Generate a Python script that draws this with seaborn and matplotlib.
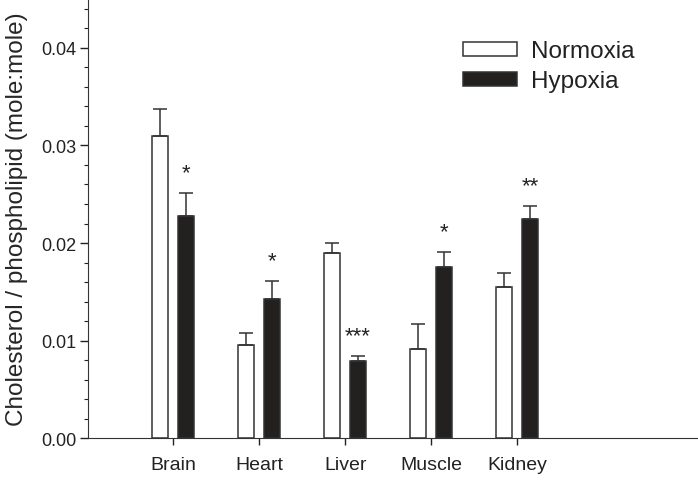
import matplotlib as mpl
import matplotlib.pyplot as plt
import seaborn as sns
import numpy as np
import pandas as pd

# values
tissues = ["Brain", "Heart", "Liver", "Muscle", "Kidney"]
normoxia = [0.0310, 0.0096, 0.0190, 0.0092, 0.0155]
hypoxia = [0.0228, 0.0143, 0.0079, 0.0175, 0.0225]
normoxia_se = [0.0027, 0.0012, 0.0010, 0.0025, 0.0014]
hypoxia_se = [0.0023, 0.0018, 0.0005, 0.0016, 0.0013]
stars = ["*", "*", "***", "*", "**"]
groups = ["Normoxia", "Hypoxia"]

df = pd.DataFrame({
    "tissue": tissues * 2,
    "group": [groups[0]] * len(tissues) + [groups[1]] * len(tissues),
    "ratio": normoxia + hypoxia,
})

sns.set_style("ticks")
plt.rcParams["font.family"] = ["Liberation Sans", "DejaVu Sans"]
plt.rcParams["font.size"] = 13
plt.rcParams["text.color"] = "#222222"
plt.rcParams["xtick.color"] = "#222222"
plt.rcParams["ytick.color"] = "#222222"
plt.rcParams["axes.edgecolor"] = "#333333"

fig = plt.figure(figsize=(6.98, 4.89), dpi=100)
ax = fig.add_axes([0.126, 0.1016, 0.874, 0.8984])

edge = "#333333"
sns.barplot(data=df, x="tissue", y="ratio", hue="group", ax=ax,
            palette={"Normoxia": "white", "Hypoxia": "#231f20"},
            order=tissues, hue_order=groups, errorbar=None,
            width=0.6, gap=0.38, edgecolor=edge, linewidth=1.1, legend=False)

# upper error bars only
for cont, se in zip(ax.containers, [normoxia_se, hypoxia_se]):
    xs = [b.get_x() + b.get_width() / 2 for b in cont]
    hs = [b.get_height() for b in cont]
    ax.errorbar(xs, hs, yerr=[np.zeros(len(se)), se], fmt="none",
                ecolor=edge, elinewidth=1.1, capsize=4.7, capthick=1.1)

# significance marks above hypoxia bars
for b, se, s in zip(ax.containers[1], hypoxia_se, stars):
    ax.annotate(s, (b.get_x() + b.get_width() / 2, b.get_height() + se),
                xytext=(0, 7), textcoords="offset points",
                ha="center", va="bottom", fontsize=16, color="#222222")

ax.set_xlim(-0.99, 6.1)
ax.set_ylim(0, 0.045)
ax.set_yticks([0.0, 0.01, 0.02, 0.03, 0.04])
ax.set_yticklabels(["0.00", "0.01", "0.02", "0.03", "0.04"])
ax.yaxis.set_minor_locator(mpl.ticker.MultipleLocator(0.002))
ax.tick_params(axis="y", which="major", length=5.5, width=1, pad=2.5)
ax.tick_params(axis="y", which="minor", length=3, width=0.8)
ax.tick_params(axis="x", length=5, width=1, pad=7.5, labelsize=14)
ax.set_xlabel("")
ax.set_ylabel("Cholesterol / phospholipid (mole:mole)", labelpad=10,
              fontsize=17.5)
sns.despine(ax=ax)

ax.legend(handles=ax.containers, labels=groups, frameon=False,
          loc="upper left", bbox_to_anchor=(0.614, 0.906),
          borderaxespad=0, borderpad=0, handlelength=2.26, handleheight=0.5,
          handletextpad=0.55, labelspacing=0.33, fontsize=17.5)

fig.savefig("out.png", dpi=100)
